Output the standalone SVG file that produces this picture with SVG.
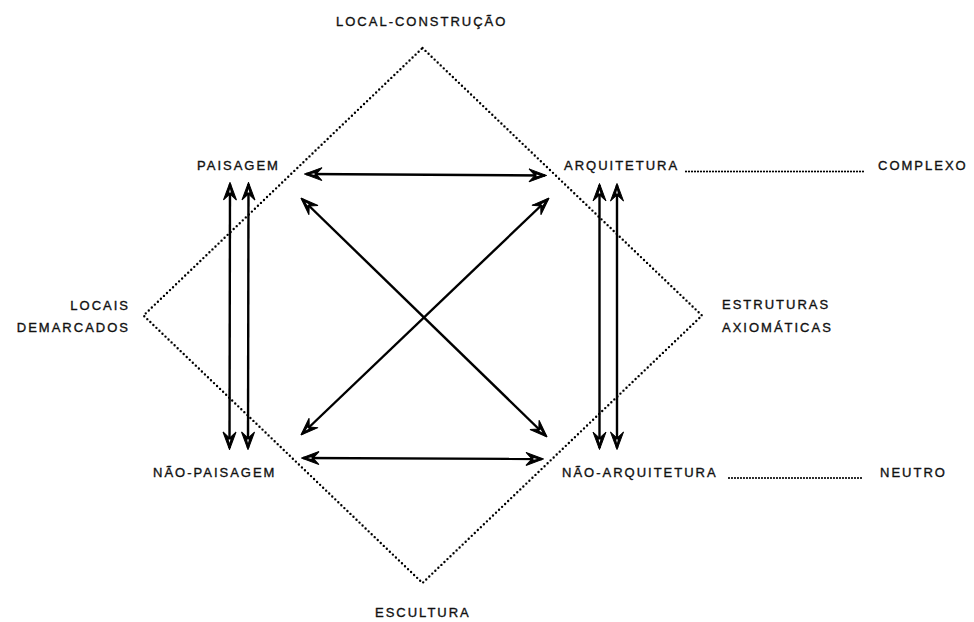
<svg xmlns="http://www.w3.org/2000/svg" width="974" height="622" viewBox="0 0 974 622">
<style>
.t{font-family:"Liberation Sans",Arial,sans-serif;font-size:13px;letter-spacing:2px;fill:#111;stroke:#111;stroke-width:0.35;}
.dot{fill:none;stroke:#000;stroke-width:2.4;stroke-linecap:round;stroke-dasharray:0 4.2;}
.dot2{fill:none;stroke:#000;stroke-width:2.2;stroke-linecap:round;stroke-dasharray:0 3;}
.arr{fill:none;stroke:#000;stroke-width:2.4;marker-start:url(#ah);marker-end:url(#ah);}
</style>
<defs>
<marker id="ah" markerUnits="userSpaceOnUse" markerWidth="20" markerHeight="16" viewBox="-18 -8 20 16" refX="0" refY="0" orient="auto-start-reverse">
<path d="M1.5,0 L-16,-6.5 L-10,0 L-16,6.5 Z" fill="#000" stroke="#000" stroke-width="1" stroke-linejoin="miter"/>
<path d="M-5,0 L-8.5,-0.9 L-8.5,0.9 Z" fill="#fff"/>
</marker>
</defs>
<g id="diamond">
<polygon class="dot" points="422.5,48 702,315.5 422.5,583 143.5,315.5"/>
</g>
<g id="connectors">
<line class="arr" x1="306" y1="174" x2="545" y2="175.5"/>
<line class="arr" x1="303" y1="458" x2="542" y2="459"/>
<line class="arr" x1="302" y1="199" x2="546" y2="436"/>
<line class="arr" x1="302" y1="434" x2="548" y2="199"/>
<line class="arr" x1="230" y1="184" x2="229.5" y2="448"/>
<line class="arr" x1="248.5" y1="184" x2="248" y2="448"/>
<line class="arr" x1="599.5" y1="185" x2="599.5" y2="448"/>
<line class="arr" x1="617" y1="185" x2="617" y2="448"/>
<line class="dot2" x1="686" y1="171.5" x2="865" y2="171.5"/>
<line class="dot2" x1="729" y1="478" x2="864" y2="478"/>
</g>
<g id="local-construcao"><text class="t" x="336" y="26">LOCAL-CONSTRUÇÃO</text></g>
<g id="paisagem"><text class="t" x="197" y="170">PAISAGEM</text></g>
<g id="arquitetura"><text class="t" x="564" y="170">ARQUITETURA</text></g>
<g id="complexo"><text class="t" x="878" y="170">COMPLEXO</text></g>
<g id="locais"><text class="t" x="130" y="310" text-anchor="end">LOCAIS</text><text class="t" x="130" y="332" text-anchor="end">DEMARCADOS</text></g>
<g id="estruturas"><text class="t" x="722" y="309">ESTRUTURAS</text><text class="t" x="722" y="332">AXIOMÁTICAS</text></g>
<g id="nao-paisagem"><text class="t" x="153" y="477">NÃO-PAISAGEM</text></g>
<g id="nao-arquitetura"><text class="t" x="562" y="477">NÃO-ARQUITETURA</text></g>
<g id="neutro"><text class="t" x="880" y="477">NEUTRO</text></g>
<g id="escultura"><text class="t" x="375" y="617">ESCULTURA</text></g>
</svg>
